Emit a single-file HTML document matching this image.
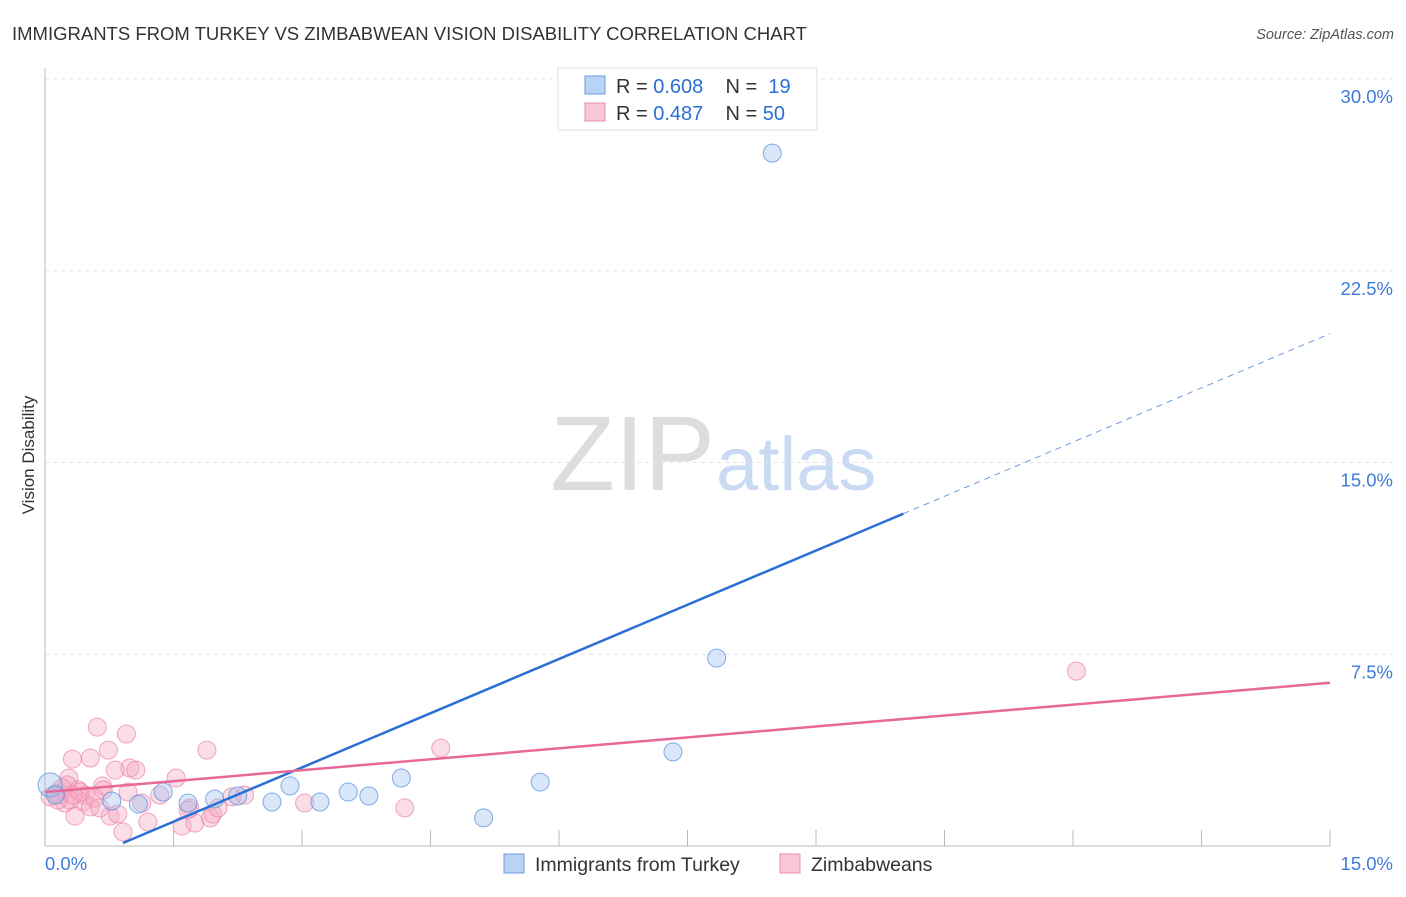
<!DOCTYPE html>
<html><head><meta charset="utf-8"><style>
body{margin:0;background:#fff;font-family:"Liberation Sans",sans-serif}
svg text{font-family:"Liberation Sans",sans-serif}
</style></head><body>
<svg width="1406" height="892" id="c">
<text x="12" y="40" font-size="18.5" fill="#333">IMMIGRANTS FROM TURKEY VS ZIMBABWEAN VISION DISABILITY CORRELATION CHART</text>
<text x="1394" y="39" font-size="14.5" fill="#555" text-anchor="end" font-style="italic">Source: ZipAtlas.com</text>
<text x="34" y="455" font-size="17" fill="#333" text-anchor="middle" transform="rotate(-90 34 455)">Vision Disability</text>
<text x="715" y="490" font-size="106" fill="#ddd" text-anchor="end" font-family="Liberation Serif">ZIP</text>
<text x="716" y="490" font-size="76" fill="#c9daf2">atlas</text>
<g id="grid"></g><g id="pts"></g><g id="lines"></g>
<g>
<rect x="558" y="68" width="259" height="62" fill="#fff" stroke="#ddd"/>
<rect x="585" y="76" width="20" height="18" fill="#b9d3f5" stroke="#6a9be0"/>
<rect x="585" y="103" width="20" height="18" fill="#f9c8d6" stroke="#ec8bab"/>
<text x="616" y="93" font-size="20" fill="#333" xml:space="preserve">R = <tspan fill="#2a6fd6">0.608</tspan>    N =  <tspan fill="#2a6fd6">19</tspan></text>
<text x="616" y="120" font-size="20" fill="#333" xml:space="preserve">R = <tspan fill="#2a6fd6">0.487</tspan>    N = <tspan fill="#2a6fd6">50</tspan></text>
</g>
<g>
<rect x="504" y="854" width="20" height="19" fill="#b9d3f5" stroke="#6a9be0"/>
<text x="535" y="871" font-size="19.5" fill="#333">Immigrants from Turkey</text>
<rect x="780" y="854" width="20" height="19" fill="#f9c8d6" stroke="#ec8bab"/>
<text x="811" y="871" font-size="19.5" fill="#333">Zimbabweans</text>
</g>
</svg>
<script>
const yTicks=[7.5,15,22.5,30];
const yTickLabels=["7.5%","15.0%","22.5%","30.0%"];
const xTicks=[1.5,3,4.5,6,7.5,9,10.5,12,13.5,15];
const blueX=[8.49,7.84,7.33,5.78,5.12,4.16,3.78,3.54,3.21,2.86,2.65,2.25,1.98,1.67,1.38,1.09,0.78,0.06,0.12];
const blueY=[27.1,7.35,3.68,2.50,1.10,2.66,1.96,2.11,1.72,2.35,1.72,1.96,1.84,1.68,2.11,1.64,1.76,2.39,2.0];
const pinkX=[12.04,.61,.95,.74,.32,.53,4.62,1.89,.99,.82,1.06,1.53,.28,.26,.67,.39,.47,.18,.06,.44,.23,.53,.35,.76,.91,1.20,1.60,1.75,1.93,1.96,2.02,2.18,2.33,3.03,4.20,1.69,.97,1.13,.68,.13,.20,.29,.58,.85,1.34,1.67,.64,.41,.15,.33];
const pinkY=[6.84,4.65,4.38,3.75,3.40,3.44,3.83,3.75,3.05,2.97,2.97,2.66,2.66,2.39,2.35,2.19,1.99,1.99,1.92,1.72,1.68,1.53,1.17,1.17,.55,.94,.78,.90,1.10,1.25,1.49,1.92,1.99,1.68,1.49,1.49,2.11,1.68,2.19,2.07,2.27,1.80,1.88,1.25,1.99,1.41,1.49,2.11,1.80,1.99];
const blueFit={slope:1.414,intercept:-1.17,x0:0.91,xSolidEnd:10.02,x1:15};
const pinkFit={slope:0.285,intercept:2.11,x0:0,x1:15};
const NS="http://www.w3.org/2000/svg";
const X=v=>45+v/15*1285, Y=v=>846-v/30*767;
function mk(t,a,p){const e=document.createElementNS(NS,t);for(const k in a)e.setAttribute(k,a[k]);p.appendChild(e);return e;}
const g=document.getElementById('grid');
yTicks.forEach((t,i)=>{
 const l=mk('line',{x1:45,x2:1395,y1:Y(t),y2:Y(t),stroke:'#e3e3e3','stroke-dasharray':'4 4'},g);
 
 
 const tx=mk('text',{x:1393,y:Y(t)+24,'font-size':18.5,fill:'#3d7bd9','text-anchor':'end'},g);tx.textContent=yTickLabels[i];
 
 
});
mk('line',{x1:45,x2:45,y1:68,y2:846,stroke:'#bbb'},g);
mk('line',{x1:45,x2:1330,y1:846,y2:846,stroke:'#bbb'},g);
xTicks.forEach(t=>{const l=mk('line',{x1:X(t),x2:X(t),y1:830,y2:846,stroke:'#bbb'},g);
 
 });
let t0=mk('text',{x:45,y:870,'font-size':18.5,fill:'#3d7bd9'},g);t0.textContent='0.0%';
let t1=mk('text',{x:1393,y:870,'font-size':18.5,fill:'#3d7bd9','text-anchor':'end'},g);t1.textContent='15.0%';
const p=document.getElementById('pts');
pinkX.forEach((v,i)=>{const c=mk('circle',{cx:X(v),cy:Y(pinkY[i]),r:9,fill:'rgba(246,170,195,0.4)',stroke:'rgba(236,130,165,0.7)'},p);
 
 });
blueX.forEach((v,i)=>{const c=mk('circle',{cx:X(v),cy:Y(blueY[i]),r:i==17?12:9,fill:'rgba(160,195,240,0.4)',stroke:'rgba(80,140,220,0.7)'},p);
 
 });
const L=document.getElementById('lines');
const bf=x=>blueFit.slope*x+blueFit.intercept, pf=x=>pinkFit.slope*x+pinkFit.intercept;
let a=mk('line',{x1:X(blueFit.x0),y1:Y(bf(blueFit.x0)),x2:X(blueFit.xSolidEnd),y2:Y(bf(blueFit.xSolidEnd)),stroke:'#2a6fd6','stroke-width':2.5},L);


let b=mk('line',{x1:X(blueFit.xSolidEnd),y1:Y(bf(blueFit.xSolidEnd)),x2:X(blueFit.x1),y2:Y(bf(blueFit.x1)),stroke:'#6a9be0','stroke-width':1,'stroke-dasharray':'6 5'},L);


let c=mk('line',{x1:X(pinkFit.x0),y1:Y(pf(pinkFit.x0)),x2:X(pinkFit.x1),y2:Y(pf(pinkFit.x1)),stroke:'#e8689a','stroke-width':2.5},L);


</script>
</body></html>
